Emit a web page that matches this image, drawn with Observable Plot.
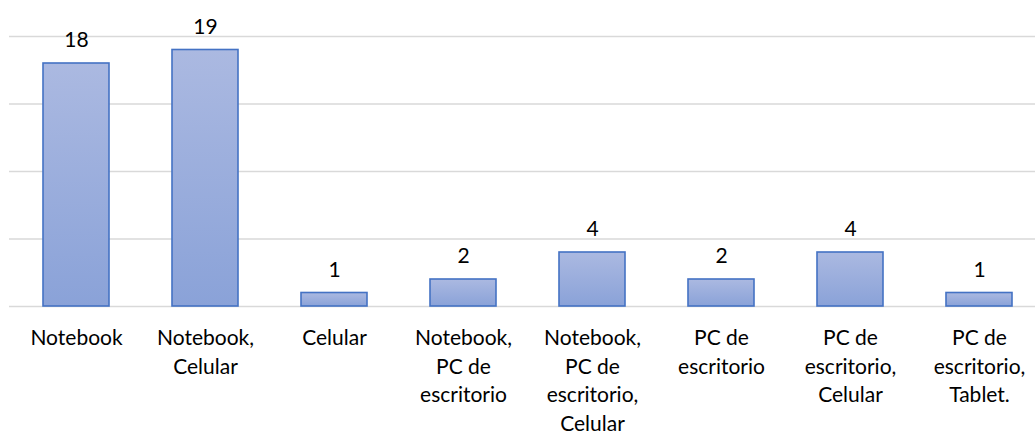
<!DOCTYPE html>
<html>
<head>
<meta charset="utf-8">
<script src="https://cdn.jsdelivr.net/npm/d3@7"></script>
<script src="https://cdn.jsdelivr.net/npm/@observablehq/plot@0.6"></script>
<style>
  html, body { margin: 0; padding: 0; background: #fff; }
  #chart svg { display: block; }
</style>
</head>
<body>
<div id="chart"></div>
<script>
const categories = [
  "Notebook",
  "Notebook, Celular",
  "Celular",
  "Notebook, PC de escritorio",
  "Notebook, PC de escritorio, Celular",
  "PC de escritorio",
  "PC de escritorio, Celular",
  "PC de escritorio, Tablet."
];
const values = [18, 19, 1, 2, 4, 2, 4, 1];
const tickLabels = [
  "Notebook",
  "Notebook,\nCelular",
  "Celular",
  "Notebook,\nPC de\nescritorio",
  "Notebook,\nPC de\nescritorio,\nCelular",
  "PC de\nescritorio",
  "PC de\nescritorio,\nCelular",
  "PC de\nescritorio,\nTablet."
];
const gridTicks = [0, 5, 10, 15, 20];

const data = categories.map((c, i) => ({category: c, value: values[i]}));
const labelOf = new Map(categories.map((c, i) => [c, tickLabels[i]]));

const chart = Plot.plot({
  width: 1035,
  height: 434,
  marginTop: 36,
  marginBottom: 128,
  marginLeft: 9,
  marginRight: 0,
  style: {fontFamily: "Lato, 'Open Sans', sans-serif", fontSize: "21px", color: "#000", background: "#fff"},
  x: {type: "band", domain: categories, range: [9.2, 1046], paddingInner: 0.49, paddingOuter: 0.245, align: 0.5, axis: null},
  y: {domain: [0, 20], range: [306, 36], axis: null},
  marks: [
    Plot.ruleY(gridTicks, {stroke: "#d9d9d9", strokeWidth: 1.5}),
    Plot.barY(data, {x: "category", y: "value", fill: "url(#barGrad)", stroke: "#4472c4", strokeWidth: 1.6}),
    Plot.text(data, {x: "category", y: "value", text: d => String(d.value), dy: -23, fontSize: 21, fill: "#000"}),
    Plot.axisX({tickSize: 0, tickPadding: 18, tickFormat: c => labelOf.get(c), fontSize: 21, lineHeight: 1.37, label: null, fill: "#000"}),
  ]
});

const ns = "http://www.w3.org/2000/svg";
const defs = document.createElementNS(ns, "defs");
const grad = document.createElementNS(ns, "linearGradient");
grad.setAttribute("id", "barGrad");
grad.setAttribute("x1", "0"); grad.setAttribute("y1", "0");
grad.setAttribute("x2", "0"); grad.setAttribute("y2", "1");
[["0%", "#abb9e1"], ["100%", "#8aa2d8"]].forEach(([o, c]) => {
  const s = document.createElementNS(ns, "stop");
  s.setAttribute("offset", o);
  s.setAttribute("stop-color", c);
  grad.appendChild(s);
});
defs.appendChild(grad);
chart.insertBefore(defs, chart.firstChild);
document.getElementById("chart").appendChild(chart);
</script>
</body>
</html>
